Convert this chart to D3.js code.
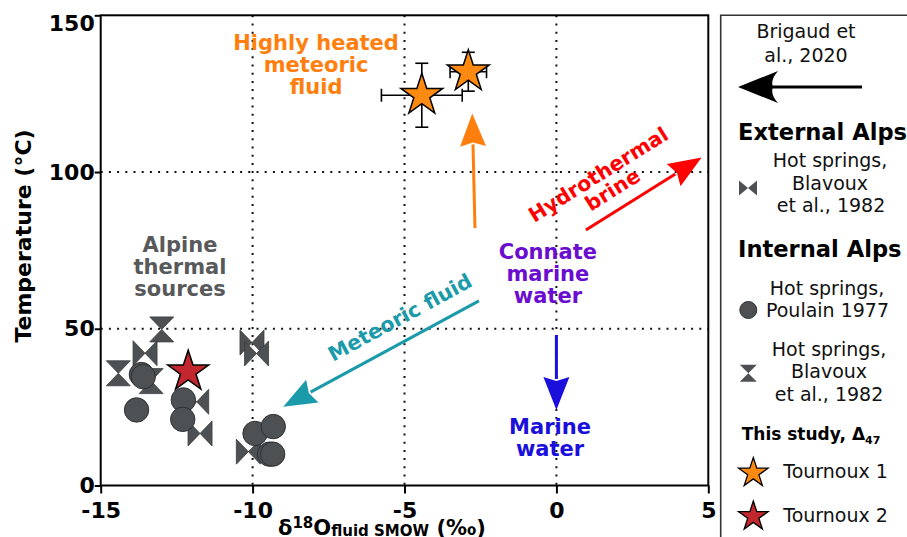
<!DOCTYPE html>
<html>
<head>
<meta charset="utf-8">
<script src="https://cdn.jsdelivr.net/npm/d3@7"></script>
<style>
  html, body { margin: 0; padding: 0; background: #fff; }
  svg { display: block; font-family: "DejaVu Sans", sans-serif; }
</style>
</head>
<body>
<svg id="chart" width="907" height="537"></svg>
<script>
// ---- axis ticks and reference lines ----
const xTicks = [-15, -10, -5, 0, 5];
const yTicks = [0, 50, 100, 150];
const xGrid = [-10, -5, 0];
const yGrid = [50, 100];

// ---- Hot springs, Poulain 1977 (δ18O ‰ SMOW, T °C) ----
const poulainX = [-13.66, -13.60, -13.82, -12.28, -12.30, -9.92, -9.32, -9.44, -9.34];
const poulainY = [35.4, 34.7, 24.1, 27.3, 21.1, 16.6, 18.8, 10.0, 10.0];

// ---- External Alps hot springs, Blavoux et al. 1982 ----
const externalX = [-13.54, -11.84, -11.73, -10.02, -9.87, -10.14];
const externalY = [42.2, 26.7, 16.6, 45.6, 42.1, 10.8];

// ---- Internal Alps hot springs, Blavoux et al. 1982 ----
const internalX = [-12.99, -14.42, -13.34];
const internalY = [49.8, 35.8, 33.3];

// ---- This study, clumped isotopes ----
const tournoux1X = [-4.43, -2.90];
const tournoux1Y = [124.5, 132.0];
const tournoux1ErrX = [1.33, 0.60];
const tournoux1ErrY = [10.2, 6.2];
const tournoux2X = [-12.12];
const tournoux2Y = [36.3];

// ---- process arrows (δ18O, T) ----
const arrowNames = ["heated", "brine", "meteoric", "marine"];
const arrowFrom = [[-2.68, 82.1], [0.97, 81.5], [-2.55, 58.9], [0.0, 48.0]];
const arrowTo   = [[-2.77, 118.7], [4.78, 104.6], [-8.99, 25.1], [0.0, 24.1]];

// ---- annotation labels ----
const labelLines = [
  ["Highly heated", "meteoric", "fluid"],
  ["Alpine", "thermal", "sources"],
  ["Connate", "marine", "water"],
  ["Marine", "water"]
];
const labelAt = [[-7.91, 138.8], [-12.39, 74.6], [-0.28, 72.2], [-0.21, 16.4]];

(function () {
const C = {
  orange: "#ff7f0e", starOrange: "#fd8a10", red: "#ff0000", teal: "#1b9aaa",
  purple: "#6a0dcf", blue: "#1a0fdb", grey: "#58595b", marker: "#4d5154",
  markerEdge: "#2e3032", starRed: "#c1272d"
};

const svg = d3.select("#chart");
const pLeft = 100.7, pRight = 708.3, pTop = 15.3, pBottom = 485.5;

const x = d3.scaleLinear().domain([-15, 5]).range([pLeft, pRight]);
const y = d3.scaleLinear().domain([0, 150]).range([pBottom, pTop]);

// dotted reference lines
svg.append("g").selectAll("line").data(xGrid).join("line")
  .attr("x1", d => x(d)).attr("x2", d => x(d)).attr("y1", pTop).attr("y2", pBottom)
  .attr("stroke", "#111").attr("stroke-width", 2).attr("stroke-dasharray", "2 6.2");
svg.append("g").selectAll("line").data(yGrid).join("line")
  .attr("y1", d => y(d)).attr("y2", d => y(d)).attr("x1", pLeft).attr("x2", pRight)
  .attr("stroke", "#111").attr("stroke-width", 2).attr("stroke-dasharray", "2 6.2");

// axes
const gx = svg.append("g").attr("transform", `translate(0,${pBottom})`)
  .call(d3.axisBottom(x).tickValues(xTicks).tickFormat(d => String(d)).tickSize(8).tickPadding(9).tickSizeOuter(0));
const gy = svg.append("g").attr("transform", `translate(${pLeft},0)`)
  .call(d3.axisLeft(y).tickValues(yTicks).tickFormat(d => String(d)).tickSize(6).tickPadding(0).tickSizeOuter(0));
[gx, gy].forEach(g => {
  g.select(".domain").remove();
  g.selectAll(".tick line").attr("stroke", "#000").attr("stroke-width", 2);
  g.selectAll(".tick text").attr("fill", "#000")
    .style("font-family", "DejaVu Sans").style("font-weight", "bold").style("font-size", "22px");
});
gy.selectAll(".tick text").filter(d => d === 150).attr("y", 8);

// frame
svg.append("rect").attr("x", pLeft).attr("y", pTop).attr("width", pRight - pLeft).attr("height", pBottom - pTop)
  .attr("fill", "none").attr("stroke", "#000").attr("stroke-width", 2);

// axis titles
svg.append("text").attr("transform", "translate(31,236) rotate(-90)")
  .attr("text-anchor", "middle").style("font-weight", "bold").style("font-size", "22px")
  .text("Temperature (°C)");

const xt = svg.append("text").attr("x", 278).attr("y", 534.5)
  .style("font-weight", "bold").style("font-size", "21px");
xt.append("tspan").text("δ");
xt.append("tspan").attr("dy", -7).style("font-size", "15px").text("18");
xt.append("tspan").attr("dy", 7).text("O");
xt.append("tspan").attr("dy", 1.5).style("font-size", "15px").text("fluid SMOW");
xt.append("tspan").attr("dy", -1.5).text(" (‰)");

// marker shapes
const bowtie = (w, h) => `M${-w/2},${-h/2}L0,0L${-w/2},${h/2}ZM${w/2},${-h/2}L0,0L${w/2},${h/2}Z`;
const hourglass = (w, h) => `M${-w/2},${-h/2}L${w/2},${-h/2}L0,0ZM${-w/2},${h/2}L${w/2},${h/2}L0,0Z`;
const star = R => d3.symbol(d3.symbolStar, R * R / 0.8908130915292852)();

// process arrows
function arrow(g, p0, p1, color, len, half, width) {
  const dx = p1[0] - p0[0], dy = p1[1] - p0[1];
  const L = Math.hypot(dx, dy), ux = dx / L, uy = dy / L;
  const bx = p1[0] - ux * len, by = p1[1] - uy * len;
  g.append("line").attr("x1", p0[0]).attr("y1", p0[1]).attr("x2", bx + ux * 2).attr("y2", by + uy * 2)
    .attr("stroke", color).attr("stroke-width", width);
  g.append("path")
    .attr("d", `M${p1[0]},${p1[1]}L${bx - uy * half},${by + ux * half}L${bx + ux * 4},${by + uy * 4}L${bx + uy * half},${by - ux * half}Z`)
    .attr("fill", color);
}
const arrowColors = [C.orange, C.red, C.teal, C.blue];
const ga = svg.append("g");
arrowNames.forEach((n, i) => {
  arrow(ga, [x(arrowFrom[i][0]), y(arrowFrom[i][1])], [x(arrowTo[i][0]), y(arrowTo[i][1])], arrowColors[i], 33, 13, 3);
});

// annotation labels
const labelColors = [C.orange, C.grey, C.purple, C.blue];
labelLines.forEach((lines, i) => {
  const t = svg.append("text").attr("text-anchor", "middle")
    .attr("fill", labelColors[i]).style("font-weight", "bold").style("font-size", "21px");
  lines.forEach((s, j) => {
    t.append("tspan").attr("x", x(labelAt[i][0])).attr("y", y(labelAt[i][1]) + j * 22).text(s);
  });
});

// rotated labels along arrows
function rotLabel(txt, px, py, ang, color) {
  svg.append("text").attr("transform", `translate(${px},${py}) rotate(${ang})`)
    .attr("text-anchor", "middle").attr("dy", "0.35em").attr("fill", color)
    .style("font-weight", "bold").style("font-size", "20.5px").text(txt);
}
rotLabel("Meteoric fluid", x(-5.15), y(53.6), -28.5, C.teal);
rotLabel("Hydrothermal", x(1.38), y(99.2), -32, C.red);
rotLabel("brine", x(1.85), y(94.4), -32, C.red);

// data markers: triangles first, circles above them, stars on top
svg.append("g").selectAll("path").data(externalX.map((v, i) => [v, externalY[i]])).join("path")
  .attr("transform", d => `translate(${x(d[0])},${y(d[1])})`).attr("d", bowtie(24, 25))
  .attr("fill", C.marker).attr("stroke", "#3a3c3e").attr("stroke-width", 0.8);
svg.append("g").selectAll("path").data(internalX.map((v, i) => [v, internalY[i]])).join("path")
  .attr("transform", d => `translate(${x(d[0])},${y(d[1])})`).attr("d", hourglass(24, 25))
  .attr("fill", C.marker).attr("stroke", "#3a3c3e").attr("stroke-width", 0.8);
svg.append("g").selectAll("circle").data(poulainX.map((v, i) => [v, poulainY[i]])).join("circle")
  .attr("cx", d => x(d[0])).attr("cy", d => y(d[1])).attr("r", 12.2)
  .attr("fill", C.marker).attr("stroke", C.markerEdge).attr("stroke-width", 1);

// error bars for Tournoux 1
const ge = svg.append("g").attr("stroke", "#000").attr("stroke-width", 1.6);
tournoux1X.forEach((vx, i) => {
  const cx = x(vx), cy = y(tournoux1Y[i]);
  const x0 = x(vx - tournoux1ErrX[i]), x1 = x(vx + tournoux1ErrX[i]);
  const y0 = y(tournoux1Y[i] - tournoux1ErrY[i]), y1 = y(tournoux1Y[i] + tournoux1ErrY[i]);
  ge.append("line").attr("x1", x0).attr("x2", x1).attr("y1", cy).attr("y2", cy);
  ge.append("line").attr("x1", cx).attr("x2", cx).attr("y1", y0).attr("y2", y1);
  [x0, x1].forEach(v => ge.append("line").attr("x1", v).attr("x2", v).attr("y1", cy - 6.5).attr("y2", cy + 6.5));
  [y0, y1].forEach(v => ge.append("line").attr("y1", v).attr("y2", v).attr("x1", cx - 6.5).attr("x2", cx + 6.5));
});
svg.append("g").selectAll("path").data(tournoux1X.map((v, i) => [v, tournoux1Y[i]])).join("path")
  .attr("transform", d => `translate(${x(d[0])},${y(d[1])})`).attr("d", star(22))
  .attr("fill", C.starOrange).attr("stroke", "#000").attr("stroke-width", 1.5);
svg.append("g").selectAll("path").data(tournoux2X.map((v, i) => [v, tournoux2Y[i]])).join("path")
  .attr("transform", d => `translate(${x(d[0])},${y(d[1])})`).attr("d", star(21.5))
  .attr("fill", C.starRed).attr("stroke", "#000").attr("stroke-width", 1.5);

// ---- legend ----
const lg = svg.append("g");
lg.append("path").attr("d", "M720.7,537V15.3H907").attr("fill", "none")
  .attr("stroke", "#333").attr("stroke-width", 1.6);

const reg = (txt, cx, by, anchor) => lg.append("text").attr("x", cx).attr("y", by)
  .attr("text-anchor", anchor || "middle").style("font-size", "19px").attr("fill", "#111").text(txt);
const bold = (txt, lx, by, size) => lg.append("text").attr("x", lx).attr("y", by)
  .style("font-weight", "bold").style("font-size", size + "px").attr("fill", "#000").text(txt);

reg("Brigaud et", 806, 38.3);
reg("al., 2020", 806, 61.7);
lg.append("line").attr("x1", 772).attr("x2", 862).attr("y1", 87).attr("y2", 87)
  .attr("stroke", "#000").attr("stroke-width", 3);
lg.append("path").attr("d", "M738,87L778,71Q770,80 773,87Q770,94 778,103Z").attr("fill", "#000");

bold("External Alps", 738, 140, 22.6);
reg("Hot springs,", 830, 166.7);
reg("Blavoux", 830, 189.5);
reg("et al., 1982", 831, 212.3);
lg.append("path").attr("transform", "translate(748,188)").attr("d", bowtie(18, 15)).attr("fill", C.marker);

bold("Internal Alps", 738, 256.7, 22.6);
reg("Hot springs,", 827, 295);
reg("Poulain 1977", 827.5, 316.7);
lg.append("circle").attr("cx", 748.3).attr("cy", 310).attr("r", 8.5).attr("fill", C.marker).attr("stroke", C.markerEdge);

reg("Hot springs,", 829, 355.5);
reg("Blavoux", 829, 378.3);
reg("et al., 1982", 829, 400.7);
lg.append("path").attr("transform", "translate(748.3,373.3)").attr("d", hourglass(17, 17)).attr("fill", C.marker);

const ts = bold("This study, Δ", 741.7, 440, 17);
ts.append("tspan").attr("dy", 4).style("font-size", "11px").text("47");

lg.append("path").attr("transform", "translate(753.3,473)").attr("d", star(15.5))
  .attr("fill", C.starOrange).attr("stroke", "#000").attr("stroke-width", 1.3);
reg("Tournoux 1", 783.3, 478.3, "start");
lg.append("path").attr("transform", "translate(753.3,516.5)").attr("d", star(15.5))
  .attr("fill", C.starRed).attr("stroke", "#000").attr("stroke-width", 1.3);
reg("Tournoux 2", 783.3, 522.3, "start");
})();
</script>
</body>
</html>
